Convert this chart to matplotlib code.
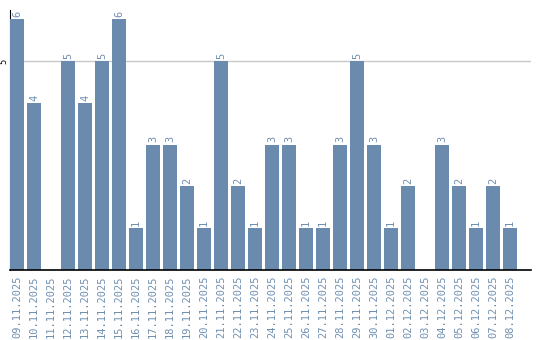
import matplotlib.pyplot as plt

dates = ['09.11.2025', '10.11.2025', '11.11.2025', '12.11.2025', '13.11.2025',
         '14.11.2025', '15.11.2025', '16.11.2025', '17.11.2025', '18.11.2025',
         '19.11.2025', '20.11.2025', '21.11.2025', '22.11.2025', '23.11.2025',
         '24.11.2025', '25.11.2025', '26.11.2025', '27.11.2025', '28.11.2025',
         '29.11.2025', '30.11.2025', '01.12.2025', '02.12.2025', '03.12.2025',
         '04.12.2025', '05.12.2025', '06.12.2025', '07.12.2025', '08.12.2025']
counts = [6, 4, 0, 5, 4, 5, 6, 1, 3, 3, 2, 1, 5, 2, 1,
          3, 3, 1, 1, 3, 5, 3, 1, 2, 0, 3, 2, 1, 2, 1]

bar_color = '#6a8bad'
label_color = '#6f8fb0'

fig = plt.figure(figsize=(5.4, 3.4), dpi=100)
ax = fig.add_axes([0.0185, 0.206, 0.965, 0.765])

x = list(range(len(dates)))
bars = ax.bar(x, counts, width=0.82, color=bar_color, zorder=2)

for xi, v in zip(x, counts):
    if v > 0:
        ax.text(xi, v + 0.05, str(v), rotation=90, ha='center', va='bottom',
                fontsize=7.5, color=label_color, family='DejaVu Sans Mono')

ax.set_xlim(-0.41, 30.24)
ax.set_ylim(0, 6.22)
ax.set_yticks([5])
ax.set_yticklabels(['5'], rotation=90, va='center', fontsize=6)
ax.tick_params(axis='y', length=0, pad=1)
ax.axhline(5, color='#c8c8c8', linewidth=1, zorder=1)

ax.set_xticks(x)
ax.set_xticklabels(dates, rotation=90, fontsize=7.5, color=label_color,
                   family='DejaVu Sans Mono')
ax.tick_params(axis='x', length=0, pad=4)

for s in ['top', 'right']:
    ax.spines[s].set_visible(False)
ax.spines['left'].set_zorder(1)
ax.spines['bottom'].set_linewidth(1.2)
ax.spines['bottom'].set_zorder(3)

fig.savefig('out.png', dpi=100)
